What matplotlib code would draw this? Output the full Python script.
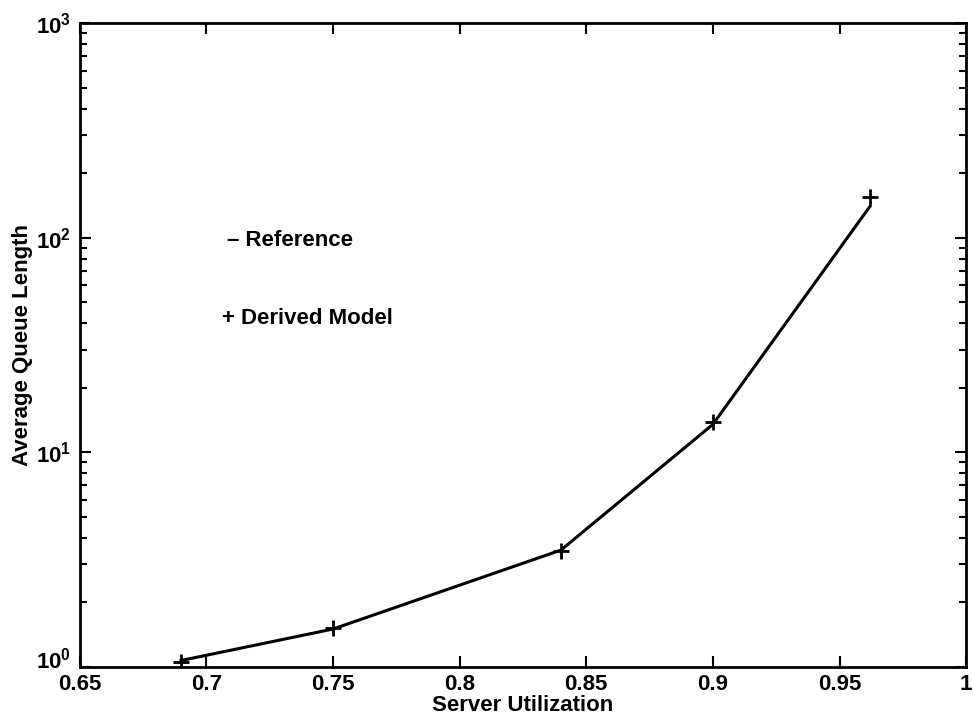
import matplotlib
matplotlib.use("Agg")
from matplotlib import pyplot as plt
from matplotlib.transforms import ScaledTranslation

# server utilization vs. average queue length
utilization = [0.69, 0.75, 0.84, 0.90, 0.962]
queue_reference = [1.07, 1.50, 3.5, 13.5, 140.0]
queue_derived = [1.05, 1.52, 3.45, 13.8, 155.0]

plt.rcParams['font.family'] = ['Liberation Sans', 'DejaVu Sans']
plt.rcParams['font.weight'] = 'bold'
plt.rcParams['mathtext.default'] = 'regular'

fig = plt.figure(figsize=(9.73, 7.24), dpi=100)
ax = fig.add_axes([0.082, 0.079, 0.911, 0.889])

ax.plot(utilization, queue_reference, color='black', linewidth=2.2)
ax.plot(utilization, queue_derived, linestyle='none', marker='+',
        markersize=11, markeredgewidth=2.0, color='black')

ax.set_yscale('log')
ax.set_xlim(0.65, 1.0)
ax.set_ylim(1, 1000)
ax.set_xticks([0.65, 0.7, 0.75, 0.8, 0.85, 0.9, 0.95, 1.0])
ax.set_xticklabels(['0.65', '0.7', '0.75', '0.8', '0.85', '0.9', '0.95', '1'])

ax.tick_params(which='both', direction='in', top=True, right=True,
               labelsize=16, width=1.5)
ax.tick_params(which='major', length=8)
ax.tick_params(axis='x', which='major', pad=5)
ax.tick_params(axis='y', which='major', pad=6)
ax.tick_params(which='minor', length=5)
for s in ax.spines.values():
    s.set_linewidth(2.0)

ax.set_xlabel('Server Utilization', fontsize=16, fontweight='bold', labelpad=0)
ax.set_ylabel('Average Queue Length', fontsize=16, fontweight='bold', labelpad=2)

# nudge the 10^0 label up so it clears the 0.65 label
fig.canvas.draw()
first = ax.get_yticklabels()[0]
for lab in ax.get_yticklabels():
    if lab.get_position()[1] == 1:
        first = lab
first.set_transform(first.get_transform() +
                    ScaledTranslation(0, 6 / 72, fig.dpi_scale_trans))

ax.text(0.708, 97, '\u2013 Reference', fontsize=16, fontweight='bold', va='center')
ax.text(0.706, 42, '+ Derived Model', fontsize=16, fontweight='bold', va='center')

fig.savefig('out.png', dpi=100)
